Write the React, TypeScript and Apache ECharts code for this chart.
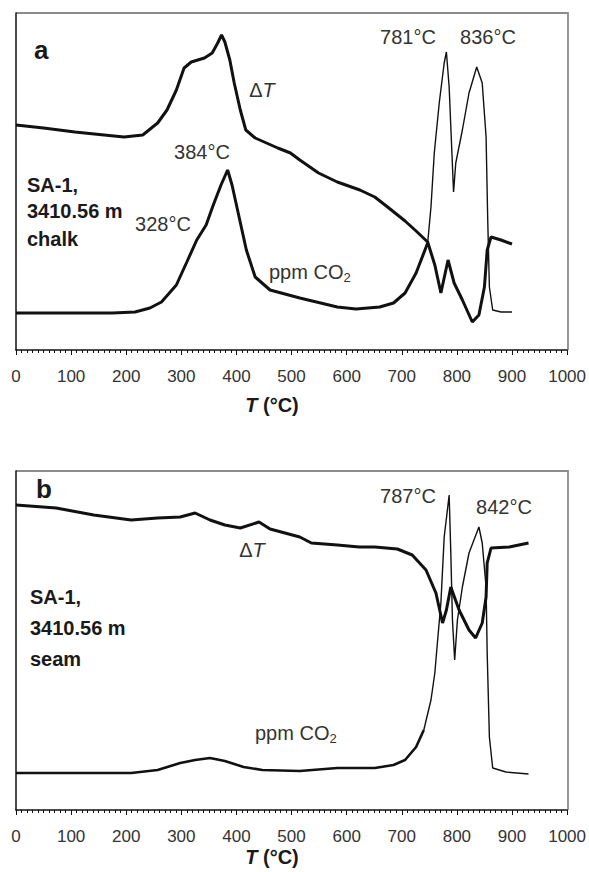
import React, { useEffect, useRef } from "react";
import * as echarts from "echarts";

// x values in °C, y values in arbitrary signal units
const deltaTChalk: [number, number][] = [
  [0, 225], [50, 222], [107, 218], [160, 215], [196, 213], [230, 215], [257, 227],
  [274, 240], [291, 260], [305, 282], [318, 288], [342, 292], [356, 297], [366, 307],
  [373, 315], [379, 308], [388, 290], [396, 267], [407, 240], [417, 220], [434, 212],
  [475, 202], [498, 197], [515, 190], [549, 177], [583, 168], [624, 160], [651, 153],
  [672, 144], [706, 129], [726, 119], [747, 108], [760, 85], [771, 57], [784, 90],
  [795, 67], [810, 50], [828, 28], [840, 35], [850, 63], [855, 100], [862, 113],
  [880, 110], [900, 106],
];
const co2ChalkLow: [number, number][] = [
  [0, 37], [175, 37], [216, 38], [243, 42], [264, 48], [291, 65], [310, 88], [328, 110],
  [345, 125], [358, 145], [372, 165], [384, 180], [392, 165], [400, 145], [408, 125],
  [418, 100], [434, 73], [461, 60], [515, 52], [583, 43], [617, 41], [660, 43], [685, 47],
  [706, 57], [726, 77], [747, 107],
];
const co2ChalkHigh: [number, number][] = [
  [747, 107], [753, 143], [759, 197], [768, 247], [777, 287], [781, 298], [786, 263],
  [791, 197], [794, 158], [798, 187], [810, 220], [822, 257], [836, 283], [846, 267],
  [853, 213], [856, 130], [859, 63], [865, 40], [880, 38], [900, 38],
];
const deltaTSeam: [number, number][] = [
  [0, 305], [73, 302], [141, 295], [209, 290], [257, 292], [298, 293], [325, 297],
  [352, 290], [379, 285], [407, 282], [441, 288], [461, 281], [488, 277], [515, 273],
  [536, 267], [583, 265], [623, 263], [651, 263], [692, 261], [719, 255], [744, 240],
  [762, 217], [774, 187], [781, 200], [789, 223], [804, 200], [822, 180], [834, 172],
  [846, 187], [853, 213], [855, 247], [862, 262], [895, 263], [930, 267],
];
const co2SeamLow: [number, number][] = [
  [0, 37], [209, 37], [257, 40], [298, 47], [325, 50], [352, 52], [379, 49], [413, 43],
  [447, 40], [515, 39], [583, 42], [651, 42], [685, 45], [706, 50], [726, 63], [740, 80],
];
const co2SeamHigh: [number, number][] = [
  [740, 80], [753, 110], [760, 137], [764, 163], [771, 207], [777, 273], [786, 315],
  [789, 257], [792, 190], [796, 150], [801, 190], [810, 223], [822, 257], [840, 283],
  [846, 267], [853, 223], [855, 157], [859, 73], [865, 42], [889, 38], [930, 36],
];

const peakLabelsChalk = ["781°C", "836°C", "384°C", "328°C"];
const peakLabelsSeam = ["787°C", "842°C"];
const sampleChalk = ["SA-1,", "3410.56 m", "chalk"];
const sampleSeam = ["SA-1,", "3410.56 m", "seam"];

const FONT = "'Liberation Sans', Arial, Helvetica, sans-serif";
const INK = "#111";
const TXT = "#333";
const FRAME = "#8c8c8c";

const GRID_A = { left: 16, top: 13, width: 552, height: 337 };
const GRID_B = { left: 16, top: 471, width: 552, height: 339 };

export default function App() {
  const ref = useRef<HTMLDivElement>(null);

  useEffect(() => {
    const chart = echarts.init(ref.current!, null, { renderer: "svg" });

    const xAxis = (gridIndex: number) => ({
      type: "value",
      gridIndex,
      min: 0,
      max: 1000,
      interval: 100,
      axisLine: { show: true, onZero: false, lineStyle: { color: INK, width: 1.5 } },
      axisTick: { show: true, length: 5, lineStyle: { color: INK, width: 1 } },
      minorTick: { show: true, splitNumber: 10, length: 3, lineStyle: { color: INK, width: 1 } },
      axisLabel: {
        margin: 18, fontSize: 17, color: TXT, fontFamily: FONT,
        showMinLabel: true, showMaxLabel: true,
        formatter: (v: number) => String(v),
      },
      splitLine: { show: false },
      minorSplitLine: { show: false },
      z: 5,
    });
    const yAxis = (gridIndex: number, max: number) => ({
      type: "value",
      gridIndex,
      min: 0,
      max,
      axisLine: { show: true, onZero: false, lineStyle: { color: INK, width: 1.5 } },
      axisTick: { show: false },
      axisLabel: { show: false },
      splitLine: { show: false },
      z: 5,
    });
    const line = (data: [number, number][], idx: number, width: number) => ({
      type: "line",
      xAxisIndex: idx,
      yAxisIndex: idx,
      data,
      showSymbol: false,
      silent: true,
      lineStyle: { color: INK, width },
    });

    const frame = (g: { left: number; top: number; width: number; height: number }) => ({
      type: "polyline",
      silent: true,
      z: 1,
      shape: {
        points: [
          [g.left, g.top],
          [g.left + g.width, g.top],
          [g.left + g.width, g.top + g.height],
        ],
      },
      style: { stroke: FRAME, lineWidth: 1.8, fill: null },
    });
    const text = (x: number, y: number, t: string, extra: any = {}) => ({
      type: "text",
      x,
      y,
      silent: true,
      style: {
        text: t,
        fill: TXT,
        fontSize: 20,
        fontFamily: FONT,
        align: "center",
        verticalAlign: "middle",
        ...extra,
      },
    });
    const bold = (x: number, y: number, t: string, extra: any = {}) =>
      text(x, y, t, { fill: "#1a1a1a", fontWeight: "bold", align: "left", ...extra });
    const italicRich = {
      i: { fontStyle: "italic", fontSize: 20, fontFamily: FONT, fill: TXT },
    };
    const co2Rich = {
      s: { fontSize: 13, fontFamily: FONT, fill: TXT, padding: [10, 0, 0, 0] },
    };
    const titleRich = {
      i: { fontStyle: "italic", fontWeight: "bold", fontSize: 20, fontFamily: FONT, fill: "#1a1a1a" },
    };

    chart.setOption({
      animation: false,
      backgroundColor: "#fff",
      grid: [GRID_A, GRID_B],
      xAxis: [xAxis(0), xAxis(1)],
      yAxis: [yAxis(0, 337), yAxis(1, 339)],
      series: [
        line(deltaTChalk, 0, 3),
        line(co2ChalkLow, 0, 3),
        line(co2ChalkHigh, 0, 1.4),
        line(deltaTSeam, 1, 3),
        line(co2SeamLow, 1, 2.6),
        line(co2SeamHigh, 1, 1.4),
      ],
      graphic: [
        frame(GRID_A),
        frame(GRID_B),
        // panel a
        bold(34, 50, "a", { fontSize: 26 }),
        text(408, 37, peakLabelsChalk[0]),
        text(488, 37, peakLabelsChalk[1]),
        text(202, 152, peakLabelsChalk[2]),
        text(163, 224, peakLabelsChalk[3]),
        text(262, 90, "Δ{i|T}", { rich: italicRich }),
        text(269, 272, "ppm CO{s|2}", { align: "left", rich: co2Rich }),
        bold(27, 185, sampleChalk[0]),
        bold(27, 211, sampleChalk[1]),
        bold(27, 239, sampleChalk[2]),
        text(272, 405, "{i|T} (°C)", { fontWeight: "bold", fill: "#1a1a1a", rich: titleRich }),
        // panel b
        bold(36, 489, "b", { fontSize: 26 }),
        text(408, 496, peakLabelsSeam[0]),
        text(504, 507, peakLabelsSeam[1]),
        text(252, 550, "Δ{i|T}", { rich: italicRich }),
        text(255, 733, "ppm CO{s|2}", { align: "left", rich: co2Rich }),
        bold(30, 597, sampleSeam[0]),
        bold(30, 628, sampleSeam[1]),
        bold(30, 659, sampleSeam[2]),
        text(272, 857, "{i|T} (°C)", { fontWeight: "bold", fill: "#1a1a1a", rich: titleRich }),
      ],
    });

    return () => chart.dispose();
  }, []);

  return (
    <div
      ref={ref}
      style={{ position: "absolute", left: 0, top: 0, width: 589, height: 872, background: "#fff" }}
    />
  );
}
